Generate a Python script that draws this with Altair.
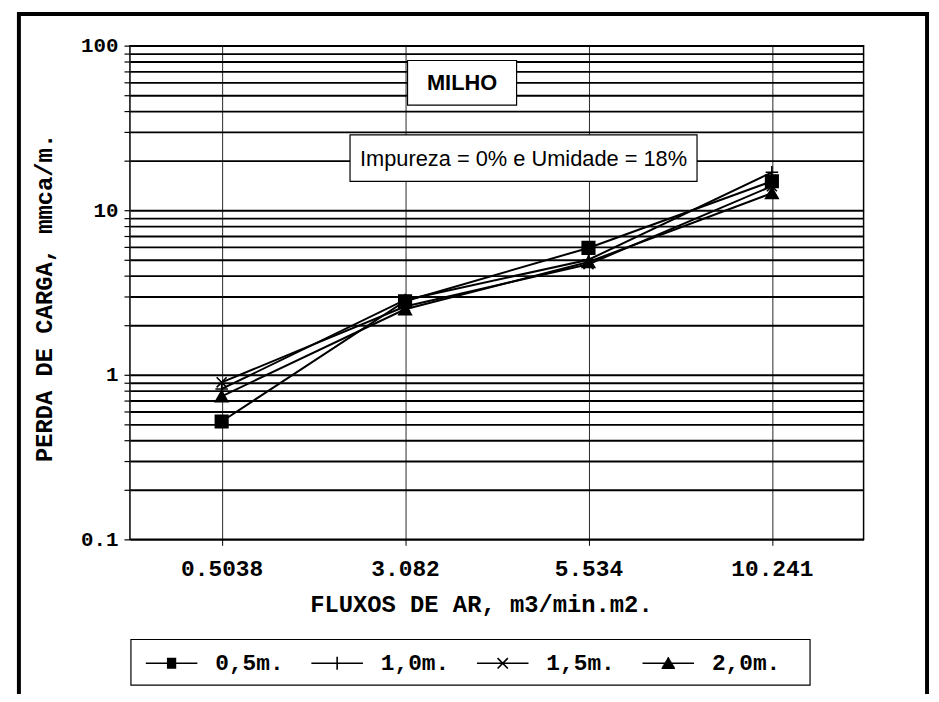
import altair as alt
import pandas as pd

# ---- data ----
flows = ["0.5038", "3.082", "5.534", "10.241"]
series_names = ["0,5m.", "1,0m.", "1,5m.", "2,0m."]
s05 = [0.52, 2.80, 5.90, 15.0]
s10 = [0.82, 2.85, 5.00, 17.0]
s15 = [0.90, 2.60, 4.70, 14.0]
s20 = [0.74, 2.50, 4.85, 12.7]
decade_labels = {0.1: "0.1", 1: "1", 10: "10", 100: "100"}

rows = []
for name, vals in zip(series_names, [s05, s10, s15, s20]):
    for f, v in zip(flows, vals):
        rows.append({"fluxo": f, "serie": name, "perda": v})
df = pd.DataFrame(rows)

# tick / grid positions of the log axis (1..9 per decade)
grid_vals = []
for d in [0.1, 1, 10]:
    for m in range(1, 10):
        grid_vals.append(round(d * m, 4))
grid_vals.append(100)

mono = "Liberation Mono"
sans = "Liberation Sans"

# marker shapes in the plot
plot_shapes = ["square", "M-1,0H1M0,-1V1", "M-0.8,-0.8L0.8,0.8M-0.8,0.8L0.8,-0.8", "triangle-up"]


# legend symbols: a line segment with the marker; solid markers drawn as dense strokes
def hatch_square(h):
    parts = ["M-2,0H2"]
    y = -h
    while y <= h + 1e-9:
        parts.append(f"M{-h:.3f},{y:.3f}H{h:.3f}")
        y += 0.08
    return "".join(parts)


def hatch_triangle(top, bottom, half):
    parts = ["M-2,0H2"]
    y = top
    while y <= bottom + 1e-9:
        w = half * (y - top) / (bottom - top)
        parts.append(f"M{-w:.3f},{y:.3f}H{w:.3f}")
        y += 0.08
    return "".join(parts)


leg_shapes = [
    hatch_square(0.36),
    "M-2,0H2M0,-0.5V0.5",
    "M-2,0H2M-0.4,-0.4L0.4,0.4M-0.4,0.4L0.4,-0.4",
    hatch_triangle(-0.5, 0.38, 0.52),
]

label_expr = " : ".join(
    f"datum.value == {k} ? '{v}'" for k, v in decade_labels.items()
) + " : ''"

x_enc = alt.X(
    "fluxo:O",
    sort=flows,
    scale=alt.Scale(type="point", padding=0.5),
    axis=alt.Axis(
        title="FLUXOS DE AR, m3/min.m2.",
        labelAngle=0,
        labelFont=mono, labelFontSize=23, labelFontWeight="bold", labelColor="black",
        labelPadding=12,
        tickSize=6, tickColor="black", tickWidth=1,
        domain=False,
        grid=True, gridColor="black", gridWidth=1, gridOpacity=0.85,
        titleFont=mono, titleFontSize=24, titleFontWeight="bold", titleColor="black",
        titleX=354, titleY=66, titleAlign="center", titleBaseline="middle",
    ),
)
y_enc = alt.Y(
    "perda:Q",
    scale=alt.Scale(type="log", domain=[0.1, 100], nice=False),
    axis=alt.Axis(
        title="PERDA DE CARGA, mmca/m.",
        values=grid_vals,
        labelExpr=label_expr,
        labelFont=mono, labelFontSize=21, labelFontWeight="bold", labelColor="black",
        labelPadding=6,
        tickSize=6, tickColor="black", tickWidth=1.2,
        domain=False,
        grid=True, gridColor="black", gridWidth=1.9, gridOpacity=1,
        titleFont=mono, titleFontSize=24, titleFontWeight="bold", titleColor="black",
        titleAngle=270, titleX=-86, titleY=254, titleAlign="center", titleBaseline="middle",
    ),
)

base = alt.Chart(df)

lines = base.mark_line(color="black", strokeWidth=2).encode(
    x=x_enc, y=y_enc, detail="serie:N"
)

points = base.mark_point(filled=True, fill="black", stroke="black", strokeWidth=1.6, opacity=1, size=160).encode(
    x=x_enc,
    y=y_enc,
    shape=alt.Shape(
        "serie:N",
        sort=series_names,
        scale=alt.Scale(domain=series_names, range=plot_shapes),
        legend=None,
    ),
)

# layer of size-0 points that only provides the legend (line + marker symbols)
legend_layer = base.mark_point(filled=False, color="black", strokeWidth=1.6, size=0).encode(
    x=x_enc,
    y=y_enc,
    shape=alt.Shape(
        "serie:N",
        sort=series_names,
        scale=alt.Scale(domain=series_names, range=leg_shapes),
        legend=alt.Legend(
            title=None,
            orient="none",
            legendX=28,
            legendY=609,
            direction="horizontal",
            symbolSize=676,
            symbolStrokeWidth=1.6,
            symbolStrokeColor="black",
            symbolOpacity=1,
            labelFont=mono, labelFontSize=23, labelFontWeight="bold", labelColor="black",
            labelOffset=30,
            columnPadding=23,
            padding=0,
        ),
    ),
)

one = pd.DataFrame({"k": [0]})

frame = alt.Chart(one).mark_rect(fill=None, stroke="black", strokeWidth=4).encode(
    x=alt.value(-112), x2=alt.value(804), y=alt.value(-32), y2=alt.value(720)
)
legend_box = alt.Chart(one).mark_rect(fill="white", stroke="black", strokeWidth=1.2).encode(
    x=alt.value(1), x2=alt.value(686), y=alt.value(599), y2=alt.value(645)
)
milho_box = alt.Chart(one).mark_rect(fill="white", stroke="black", strokeWidth=1.2).encode(
    x=alt.value(280), x2=alt.value(390), y=alt.value(15), y2=alt.value(60)
)
milho_txt = alt.Chart(pd.DataFrame({"t": ["MILHO"]})).mark_text(
    font=sans, fontSize=22, fontWeight="bold", color="black", align="center", baseline="middle"
).encode(x=alt.value(335), y=alt.value(38), text="t:N")
imp_box = alt.Chart(one).mark_rect(fill="white", stroke="black", strokeWidth=1.2).encode(
    x=alt.value(222), x2=alt.value(572), y=alt.value(90), y2=alt.value(137)
)
imp_txt = alt.Chart(pd.DataFrame({"t": ["Impureza = 0% e Umidade = 18%"]})).mark_text(
    font=sans, fontSize=22, color="black", align="center", baseline="middle"
).encode(x=alt.value(397), y=alt.value(114), text="t:N")

chart = alt.layer(
    frame, legend_box, lines, points, legend_layer, milho_box, milho_txt, imp_box, imp_txt
).resolve_scale(shape="independent").properties(
    width=740,
    height=498,
    autosize=alt.AutoSizeParams(type="none"),
    padding={"left": 123, "top": 35, "right": 68, "bottom": 153},
    background="white",
).configure_view(stroke="black", strokeWidth=1.5)

chart.save("out.html", embed_options={"renderer": "svg", "actions": False})
